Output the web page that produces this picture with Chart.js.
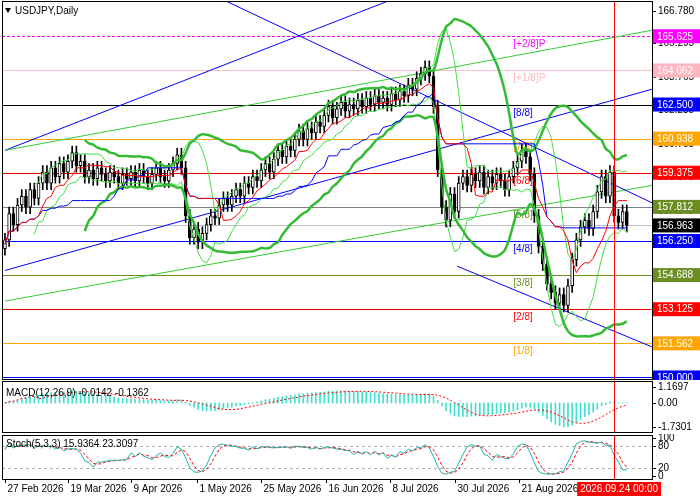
<!DOCTYPE html>
<html>
<head>
<meta charset="utf-8">
<script src="https://cdn.jsdelivr.net/npm/chart.js@4.4.1/dist/chart.umd.min.js"></script>
<style>
  body { margin: 0; background: #fff; }
  .pane { position: absolute; left: 0; width: 700px; }
</style>
</head>
<body>
<div class="pane" style="top:0;height:380px"><canvas id="main"></canvas></div>
<div class="pane" style="top:380px;height:54px"><canvas id="macd"></canvas></div>
<div class="pane" style="top:434px;height:66px"><canvas id="stoch"></canvas></div>
<script>
// closes, one per trading day (27 Feb .. end Sep 2026)
const closes = [
  156.3, 157.5, 157.0, 157.9, 158.3, 157.8, 158.6, 158.2, 158.9, 159.4, 158.9, 159.6, 159.2, 159.8, 159.4,
  159.9, 160.3, 159.7, 159.9, 159.2, 159.5, 159.1, 159.6, 159.3, 159.0, 159.4, 159.2, 158.9, 159.3, 159.1,
  159.4, 159.0, 159.5, 159.2, 158.9, 159.3, 159.6, 159.2, 159.0, 159.5, 159.8, 160.2, 159.6, 157.4, 156.4,
  156.8, 156.2, 156.6, 157.0, 157.4, 157.3, 157.9, 158.2, 157.9, 158.3, 158.6, 158.3, 158.9, 158.7, 159.2,
  159.0, 159.5, 159.8, 159.4, 160.0, 160.4, 160.1, 160.6, 160.4, 160.9, 161.3, 160.9, 161.4, 161.2, 161.7,
  161.5, 162.0, 162.4, 161.9, 162.3, 162.6, 162.2, 162.5, 162.3, 162.7, 162.4, 162.8, 162.5, 162.9, 162.6,
  162.8, 162.5, 163.0, 162.7, 163.1, 162.9, 163.4, 163.2, 163.7, 163.9, 164.2, 163.8, 162.4, 159.5, 157.8,
  157.2, 158.4, 157.6, 158.9, 159.2, 158.8, 159.3, 159.0, 159.4, 158.7, 159.2, 158.9, 159.3, 159.0, 158.6,
  159.2, 159.6, 159.9, 160.4, 160.1, 159.3, 157.4, 156.0, 155.2, 154.3, 153.9, 153.4, 153.8, 153.3, 154.2,
  155.4, 156.3, 156.9, 157.2, 156.8, 157.6, 158.5, 159.2, 158.3, 159.4, 157.4, 157.1, 157.6, 156.963
];
const murreyLevels = [165.625, 164.062, 162.5, 160.938, 159.375, 157.812, 156.25, 154.688, 153.125, 151.562, 150.0];
const murreyNames = ["[+2/8]P", "[+1/8]P", "[8/8]", "[7/8]", "[6/8]", "[5/8]", "[4/8]", "[3/8]", "[2/8]", "[1/8]", "[0/8]"];
const murreyColors = ["#ff00ff", "#ffb6c1", "#0000ff", "#ffa500", "#ff0000", "#6b8e23", "#0000ff", "#6b8e23", "#ff0000", "#ffa500", "#0000ff"];
const murreyLineColors = ["#ff00ff", "#ffc0cb", "#000000", "#ffa500", "#ff0000", "#808080", "#0000ff", "#6b8e23", "#ff0000", "#ffa500", "#0000ff"];
const priceTicks = [166.780, 165.295, 163.765, 162.235, 160.705, 159.175, 157.645, 156.115];
const macdTicks = [1.1697, 0, -1.7301];
const stochTicks = [100, 80, 20, 0];
const dateLabels = ["27 Feb 2026", "19 Mar 2026", "9 Apr 2026", "1 May 2026", "25 May 2026", "16 Jun 2026", "8 Jul 2026", "30 Jul 2026", "21 Aug 2026"];
const dateIdx = [0, 15, 30, 45.7, 61, 76.4, 91.7, 107, 122.4];
const cursorIdx = 145;
const cursorLabel = "2026.09.24 00:00";
// trend lines: [x0, p0, x1, p1, colour]
const trendLines = [
  [0, 154.9, 154, 163.2, "#0000ff"],
  [0, 160.4, 92, 167.3, "#0000ff"],
  [0, 160.4, 154, 165.9, "#33cc33"],
  [0, 153.5, 154, 158.8, "#33cc33"],
  [53, 167.2, 154, 158.0, "#0000ff"],
  [107.6, 155.1, 154, 151.4, "#0000ff"]
];

const X_MIN = -0.7, X_MAX = 154;
const FONT = "10px 'Liberation Sans', Arial, sans-serif";
const opens = closes.map((c, i) => (i ? closes[i - 1] : c - 0.4));
const highs = closes.map((c, i) => Math.max(c, opens[i]) + 0.3);
const lows = closes.map((c, i) => Math.min(c, opens[i]) - 0.3);

function sma(a, n, i) { let s = 0; for (let k = i - n + 1; k <= i; k++) s += a[k]; return s / n; }
function mid(n, i) {
  let h = -Infinity, l = Infinity;
  for (let k = Math.max(0, i - n + 1); k <= i; k++) { h = Math.max(h, highs[k]); l = Math.min(l, lows[k]); }
  return (h + l) / 2;
}
function bb(n, d) {
  const up = [], lo = [];
  closes.forEach((c, i) => {
    if (i < n - 1) return;
    const m = sma(closes, n, i);
    let v = 0; for (let k = i - n + 1; k <= i; k++) v += (closes[k] - m) ** 2;
    const sd = Math.sqrt(v / n);
    up.push({ x: i, y: m + d * sd }); lo.push({ x: i, y: m - d * sd });
  });
  return [up, lo];
}
function ema(a, n) { const k = 2 / (n + 1); const out = []; a.forEach((v, i) => out.push(i ? v * k + out[i - 1] * (1 - k) : v)); return out; }

const [bbUp, bbLo] = bb(20, 2);
const [bbUp2, bbLo2] = bb(8, 1.6);
const tenkan = closes.map((c, i) => ({ x: i, y: mid(9, i) }));
const kijun = closes.map((c, i) => ({ x: i, y: mid(26, i) }));
const e12 = ema(closes, 12), e26 = ema(closes, 26);
const macdLine = closes.map((c, i) => e12[i] - e26[i]);
const sig = [];
macdLine.forEach((v, i) => { sig.push(i < 8 ? v : sma(macdLine, 9, i)); });
const kRaw = closes.map((c, i) => {
  let h = -Infinity, l = Infinity;
  for (let k = Math.max(0, i - 4); k <= i; k++) { h = Math.max(h, highs[k]); l = Math.min(l, lows[k]); }
  return (c - l) / (h - l) * 100;
});
const kLine = kRaw.map((v, i) => (i < 2 ? v : sma(kRaw, 3, i)));
const dLine = kLine.map((v, i) => (i < 2 ? v : sma(kLine, 3, i)));

// right-hand price axis, drawn by hand so the plot area fills the pane
function rightAxis(ticks, fmt) {
  return {
    id: "rightAxis",
    afterDraw(ch) {
      const a = ch.chartArea, c = ch.ctx, y = ch.scales.y;
      c.save();
      c.strokeStyle = "#000"; c.fillStyle = "#000"; c.font = FONT; c.textBaseline = "middle";
      const xs = ch.scales.x.getPixelForValue(cursorIdx);
      c.strokeStyle = "#ff0000";
      c.beginPath(); c.moveTo(Math.round(xs) + 0.5, a.top); c.lineTo(Math.round(xs) + 0.5, a.bottom); c.stroke();
      c.strokeStyle = "#000";
      c.strokeRect(a.left + 0.5, a.top + 0.5, a.right - a.left, a.bottom - a.top);
      ticks.forEach(v => {
        const py = Math.round(y.getPixelForValue(v)) + 0.5;
        c.beginPath(); c.moveTo(a.right, py); c.lineTo(a.right + 4, py); c.stroke();
        c.fillText(fmt(v), a.right + 6, py);
      });
      c.restore();
    }
  };
}
function box(c, x, y, txt, bg, fg) {
  c.fillStyle = bg; c.fillRect(x, y - 7, 47, 14);
  c.fillStyle = fg; c.font = FONT; c.textBaseline = "middle"; c.textAlign = "left";
  c.fillText(txt, x + 4, y + 0.5);
}
const baseOpts = (ymin, ymax, bottom) => ({
  animation: false, responsive: true, maintainAspectRatio: false,
  layout: { padding: { left: 2, top: 1, right: 48, bottom: bottom } },
  plugins: { legend: { display: false }, tooltip: { enabled: false } },
  scales: {
    x: { type: "linear", min: X_MIN, max: X_MAX, display: false, offset: false },
    y: { min: ymin, max: ymax, display: false }
  }
});

const mainDecor = {
  id: "mainDecor",
  beforeDatasetsDraw(ch) {
    const a = ch.chartArea, c = ch.ctx, y = ch.scales.y, x = ch.scales.x;
    c.save();
    c.beginPath(); c.rect(a.left, a.top, a.right - a.left, a.bottom - a.top); c.clip();
    murreyLevels.forEach((lv, i) => {
      const py = Math.round(y.getPixelForValue(lv)) + 0.5;
      c.strokeStyle = murreyLineColors[i]; c.lineWidth = i === 0 ? 1.2 : 1;
      c.setLineDash(i === 0 ? [3, 2] : []);
      c.beginPath(); c.moveTo(a.left, py); c.lineTo(a.right, py); c.stroke();
      if (i < 10) {
        c.setLineDash([]); c.font = FONT; c.fillStyle = murreyColors[i];
        c.textBaseline = "top"; c.fillText(murreyNames[i], x.getPixelForValue(121), py + 3);
      }
    });
    const pc = Math.round(y.getPixelForValue(closes[closes.length - 1])) + 0.5;
    c.setLineDash([]); c.strokeStyle = "#c0c0c0";
    c.beginPath(); c.moveTo(a.left, pc); c.lineTo(a.right, pc); c.stroke();
    trendLines.forEach(t => {
      c.strokeStyle = t[4];
      c.beginPath(); c.moveTo(x.getPixelForValue(t[0]), y.getPixelForValue(t[1]));
      c.lineTo(x.getPixelForValue(t[2]), y.getPixelForValue(t[3])); c.stroke();
    });
    c.restore();
  },
  afterDraw(ch) {
    const a = ch.chartArea, c = ch.ctx, y = ch.scales.y;
    c.save();
    murreyLevels.forEach((lv, i) => box(c, a.right + 1, y.getPixelForValue(lv), lv.toFixed(3), murreyColors[i], "#fff"));
    const last = closes[closes.length - 1];
    box(c, a.right + 1, y.getPixelForValue(last), last.toFixed(3), "#000", "#fff");
    c.fillStyle = "#000"; c.font = FONT; c.textBaseline = "middle";
    c.fillText("USDJPY,Daily", 15, 11);
    c.beginPath(); c.moveTo(5, 8); c.lineTo(11, 8); c.lineTo(8, 13); c.closePath(); c.fill();
    c.restore();
  }
};

new Chart(document.getElementById("main"), {
  data: {
    datasets: [
      { type: "bar", data: closes.map((c, i) => ({ x: i, y: [lows[i], highs[i]] })), backgroundColor: "#000", barThickness: 1, grouped: false, order: 3 },
      { type: "bar", data: closes.map((c, i) => ({ x: i, y: [opens[i], c] })), grouped: false, order: 2,
        backgroundColor: closes.map((c, i) => (c >= opens[i] ? "#fff" : "#000")), borderColor: "#000", borderWidth: 1, borderSkipped: false, barThickness: 3 },
      { type: "line", data: bbUp, borderColor: "#33bb33", borderWidth: 2.5, pointRadius: 0, tension: 0.3, order: 1 },
      { type: "line", data: bbLo, borderColor: "#33bb33", borderWidth: 2.5, pointRadius: 0, tension: 0.3, order: 1 },
      { type: "line", data: bbUp2, borderColor: "#44dd44", borderWidth: 1, pointRadius: 0, order: 1 },
      { type: "line", data: bbLo2, borderColor: "#44dd44", borderWidth: 1, pointRadius: 0, order: 1 },
      { type: "line", data: tenkan, borderColor: "#ff0000", borderWidth: 1, pointRadius: 0, order: 0 },
      { type: "line", data: kijun, borderColor: "#0000ff", borderWidth: 1, pointRadius: 0, order: 0 }
    ]
  },
  options: baseOpts(149.93, 167.24, 1),
  plugins: [rightAxis(priceTicks, v => v.toFixed(3)), mainDecor]
});

const macdDecor = {
  id: "macdDecor",
  afterDraw(ch) {
    const c = ch.ctx; c.save();
    c.fillStyle = "#000"; c.font = FONT; c.textBaseline = "middle";
    const n = closes.length - 1;
    c.fillText("MACD(12,26,9) " + macdLine[n].toFixed(4) + " " + sig[n].toFixed(4), 6, 13);
    c.restore();
  }
};
new Chart(document.getElementById("macd"), {
  data: {
    datasets: [
      { type: "bar", data: macdLine.map((v, i) => ({ x: i, y: v })), backgroundColor: "#40e0d0", barThickness: 1, order: 2 },
      { type: "line", data: sig.map((v, i) => ({ x: i, y: v })), borderColor: "#ff0000", borderWidth: 1, borderDash: [2, 2], pointRadius: 0, order: 1 }
    ]
  },
  options: baseOpts(-2.1, 1.6, 2),
  plugins: [rightAxis(macdTicks, v => (v === 0 ? "0.00" : v.toFixed(4))), macdDecor]
});

const stochDecor = {
  id: "stochDecor",
  beforeDatasetsDraw(ch) {
    const a = ch.chartArea, c = ch.ctx, y = ch.scales.y;
    c.save(); c.strokeStyle = "#b0b0b0"; c.setLineDash([3, 3]);
    [20, 80].forEach(v => { const py = Math.round(y.getPixelForValue(v)) + 0.5; c.beginPath(); c.moveTo(a.left, py); c.lineTo(a.right, py); c.stroke(); });
    c.restore();
  },
  afterDraw(ch) {
    const a = ch.chartArea, c = ch.ctx, x = ch.scales.x;
    c.save();
    c.fillStyle = "#000"; c.font = FONT; c.textBaseline = "middle";
    const n = closes.length - 1;
    c.fillText("Stoch(5,3,3) " + kLine[n].toFixed(4) + " " + dLine[n].toFixed(4), 6, a.top + 9);
    c.strokeStyle = "#000"; c.textBaseline = "top";
    dateIdx.forEach((d, i) => {
      const px = Math.round(x.getPixelForValue(d)) + 0.5;
      c.beginPath(); c.moveTo(px, a.bottom); c.lineTo(px, a.bottom + 4); c.stroke();
      c.fillText(dateLabels[i], px + 2, a.bottom + 5);
    });
    const cx = x.getPixelForValue(cursorIdx);
    const w = c.measureText(cursorLabel).width + 6;
    c.fillStyle = "#ff0000"; c.fillRect(cx - 37, a.bottom + 3, w, 14);
    c.fillStyle = "#fff"; c.fillText(cursorLabel, cx - 34, a.bottom + 5);
    c.restore();
  }
};
new Chart(document.getElementById("stoch"), {
  data: {
    datasets: [
      { type: "line", data: kLine.map((v, i) => ({ x: i, y: v })), borderColor: "#20b2aa", borderWidth: 1, pointRadius: 0 },
      { type: "line", data: dLine.map((v, i) => ({ x: i, y: v })), borderColor: "#ff0000", borderWidth: 1, borderDash: [3, 2], pointRadius: 0 }
    ]
  },
  options: baseOpts(-8, 108, 21),
  plugins: [rightAxis(stochTicks, v => String(v)), stochDecor]
});
</script>
</body>
</html>
